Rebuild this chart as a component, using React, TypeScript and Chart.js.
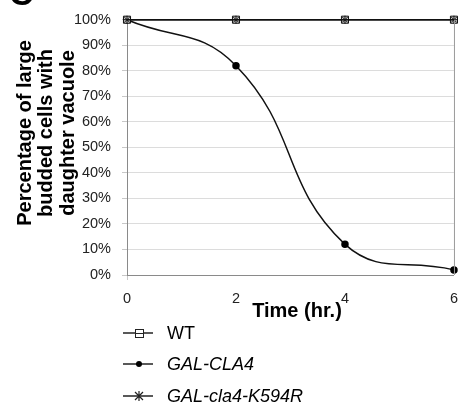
import React, { useEffect, useRef } from 'react';
import { Chart, registerables } from 'chart.js';
Chart.register(...registerables);

const times = [0, 2, 4, 6];
const wtValues = [100, 100, 100, 100];
const galCla4Values = [100, 82, 12, 2];
const k594rValues = [100, 100, 100, 100];
const seriesNames = ['WT', 'GAL-CLA4', 'GAL-cla4-K594R'];
const yTitleLines = ['Percentage of large', 'budded cells with', 'daughter vacuole'];
const xTitle = 'Time (hr.)';
const panelLetter = 'C';

const FONT = '"Liberation Sans", Arial, sans-serif';

const toXY = (vals: number[]) => vals.map((v, i) => ({ x: times[i], y: v }));

const decorPlugin = {
  id: 'decor',
  afterDraw(chart: any) {
    const ctx = chart.ctx as CanvasRenderingContext2D;
    const area = chart.chartArea;
    ctx.save();
    // right border of plot area
    ctx.strokeStyle = '#9a9a9a';
    ctx.lineWidth = 1;
    ctx.beginPath();
    ctx.moveTo(area.right + 0.5, area.top);
    ctx.lineTo(area.right + 0.5, area.bottom);
    ctx.stroke();

    // panel letter
    ctx.fillStyle = '#000';
    ctx.font = `bold 34px ${FONT}`;
    ctx.textAlign = 'left';
    ctx.textBaseline = 'alphabetic';
    ctx.fillText(panelLetter, 9, 5);

    // y title
    ctx.font = `bold 20px ${FONT}`;
    ctx.textAlign = 'center';
    ctx.textBaseline = 'middle';
    const xs = [25, 46, 68];
    yTitleLines.forEach((line, i) => {
      ctx.save();
      ctx.translate(xs[i], 133);
      ctx.rotate(-Math.PI / 2);
      ctx.fillText(line, 0, 0);
      ctx.restore();
    });

    // x title
    ctx.font = `bold 20px ${FONT}`;
    ctx.textAlign = 'center';
    ctx.textBaseline = 'middle';
    ctx.fillText(xTitle, 297, 311);

    // legend
    const ys = [333, 364, 396];
    ys.forEach((y, i) => {
      ctx.strokeStyle = '#222';
      ctx.lineWidth = 1.5;
      ctx.beginPath();
      ctx.moveTo(123, y);
      ctx.lineTo(153, y);
      ctx.stroke();
      const cx = 139;
      if (i === 0) {
        ctx.fillStyle = '#fff';
        ctx.lineWidth = 1;
        ctx.fillRect(cx - 4, y - 4, 8, 8);
        ctx.strokeRect(cx - 3.5, y - 3.5, 8, 8);
        ctx.beginPath();
        ctx.moveTo(cx - 4, y + 0.5);
        ctx.lineTo(cx + 4, y + 0.5);
        ctx.stroke();
      } else if (i === 1) {
        ctx.fillStyle = '#000';
        ctx.beginPath();
        ctx.arc(cx, y, 3, 0, Math.PI * 2);
        ctx.fill();
      } else {
        ctx.lineWidth = 1.2;
        ctx.beginPath();
        ctx.moveTo(cx - 4, y - 4);
        ctx.lineTo(cx + 4, y + 4);
        ctx.moveTo(cx + 4, y - 4);
        ctx.lineTo(cx - 4, y + 4);
        ctx.moveTo(cx, y - 5);
        ctx.lineTo(cx, y + 5);
        ctx.stroke();
      }
      ctx.fillStyle = '#000';
      ctx.font = `${i === 0 ? '' : 'italic '}18px ${FONT}`;
      ctx.textAlign = 'left';
      ctx.textBaseline = 'middle';
      ctx.fillText(seriesNames[i], 167, y + 1);
    });
    ctx.restore();
  },
};

export default function App() {
  const ref = useRef<HTMLCanvasElement | null>(null);
  useEffect(() => {
    if (!ref.current) return;
    const chart = new Chart(ref.current, {
      type: 'line',
      data: {
        datasets: [
          {
            label: seriesNames[2],
            data: toXY(k594rValues),
            borderColor: '#111',
            borderWidth: 1.5,
            pointStyle: 'star',
            pointRadius: 4,
            pointBorderColor: '#111',
            pointBorderWidth: 1,
            tension: 0,
            clip: false,
          },
          {
            label: seriesNames[0],
            data: toXY(wtValues),
            borderColor: '#111',
            borderWidth: 1.5,
            pointStyle: 'rect',
            pointRadius: 5,
            pointBackgroundColor: '#cfcfcf',
            pointBorderColor: '#111',
            pointBorderWidth: 1,
            tension: 0,
            clip: false,
          },
          {
            label: seriesNames[1],
            data: toXY(galCla4Values),
            borderColor: '#111',
            borderWidth: 1.5,
            pointStyle: 'circle',
            pointRadius: 3,
            pointBackgroundColor: '#000',
            pointBorderColor: '#000',
            tension: 0.45,
            clip: false,
          },
        ],
      },
      options: {
        responsive: false,
        animation: false,
        layout: { padding: { left: 67, right: 10, top: 13, bottom: 95 } },
        plugins: { legend: { display: false }, tooltip: { enabled: false } },
        scales: {
          x: {
            type: 'linear',
            min: 0,
            max: 6,
            afterFit: (s: any) => { s.height = 40; },
            ticks: { stepSize: 2, padding: 10, color: '#222', font: { family: FONT, size: 14.5 } },
            grid: {
              drawOnChartArea: false,
              drawTicks: true,
              tickLength: 5,
              color: (c: any) => (c.index === 0 ? '#c8c8c8' : 'rgba(0,0,0,0)'),
            },
            border: { display: true, color: '#8a8a8a', width: 1 },
          },
          y: {
            min: 0,
            max: 100,
            afterFit: (s: any) => { s.width = 60; },
            ticks: {
              stepSize: 10,
              padding: 11,
              color: '#222',
              font: { family: FONT, size: 14.5 },
              callback: (v: any) => `${v}%`,
            },
            grid: { color: '#dcdcdc', tickColor: '#c8c8c8', tickLength: 5, lineWidth: 1 },
            border: { display: true, color: '#8a8a8a', width: 1 },
          },
        },
      },
      plugins: [decorPlugin],
    });
    return () => chart.destroy();
  }, []);
  return (
    <div style={{ position: 'absolute', left: 0, top: 0, width: 468, height: 410, background: '#fff' }}>
      <canvas ref={ref} width={468} height={410} />
    </div>
  );
}
